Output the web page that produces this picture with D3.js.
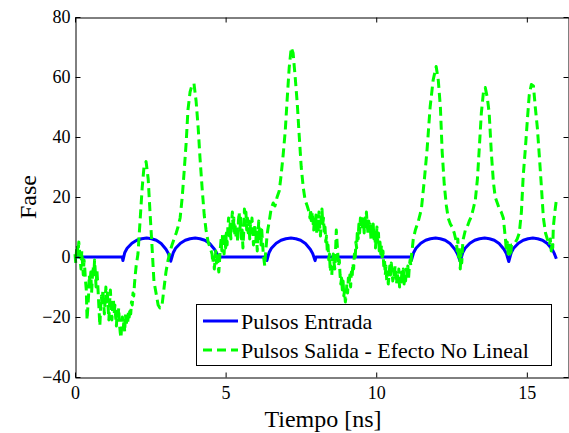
<!DOCTYPE html>
<html>
<head>
<meta charset="utf-8">
<script src="https://cdn.jsdelivr.net/npm/d3@7"></script>
<style>
  html, body { margin: 0; padding: 0; background: #fff; }
  svg { display: block; }
  svg text { font-family: "Liberation Serif", "Times New Roman", Times, "Nimbus Roman", "DejaVu Serif", serif; fill: #000; }
</style>
</head>
<body>
<svg id="chart" width="569" height="433"></svg>
<script>
// ---------- data ----------
const seriesNames = ["Pulsos Entrada", "Pulsos Salida - Efecto No Lineal"];
const xTicks = [0, 5, 10, 15];
const yTicks = [-40, -20, 0, 20, 40, 60, 80];
const xLabel = "Tiempo [ns]";
const yLabel = "Fase";

// input pulses: [time ns, phase]
const inputPulse = [
  [0,0],[1.57,0],[1.59,-1.2],[1.65,1.4],[1.73,2.9],[1.89,4.6],[2.05,5.6],[2.21,6.1],[2.38,6.3],[2.54,6.1],[2.70,5.6],[2.86,4.5],[3.02,2.6],[3.10,1.2],[3.18,-1.4],
  [3.26,1.4],[3.34,2.9],[3.50,4.6],[3.66,5.6],[3.82,6.1],[3.99,6.3],[4.15,6.1],[4.31,5.6],[4.47,4.5],[4.63,2.6],[4.71,1.2],[4.79,-0.8],[4.82,0],
  [6.35,0],[6.37,-1.2],[6.44,1.4],[6.52,2.9],[6.68,4.6],[6.84,5.6],[7.00,6.1],[7.17,6.3],[7.33,6.1],[7.49,5.6],[7.65,4.5],[7.81,2.6],[7.89,1.2],[7.97,-1.2],[8.00,0],
  [11.15,0],[11.17,-1.0],[11.24,1.4],[11.32,2.9],[11.48,4.6],[11.64,5.6],[11.80,6.1],[11.97,6.3],[12.13,6.1],[12.29,5.6],[12.45,4.5],[12.61,2.6],[12.69,1.2],[12.79,-1.5],
  [12.87,1.4],[12.95,2.9],[13.11,4.6],[13.27,5.6],[13.43,6.1],[13.60,6.3],[13.76,6.1],[13.92,5.6],[14.08,4.5],[14.24,2.6],[14.32,1.2],[14.40,-1.5],
  [14.48,1.4],[14.56,2.9],[14.72,4.6],[14.88,5.6],[15.04,6.1],[15.20,6.3],[15.36,6.1],[15.52,5.6],[15.68,4.5],[15.84,2.6],[15.91,1.2],[15.98,-0.6]
];

// output pulses (non-linear effect): [time ns, phase]
const outputPulse = [
  [0.000,1],[0.025,-2],[0.050,2],[0.075,4],[0.100,1],[0.125,5],[0.150,2],[0.175,-1],[0.200,-4],[0.225,2],
  [0.250,-2],[0.275,-6],[0.300,-1],[0.325,-4],[0.350,-8],[0.375,-11],[0.400,-21],[0.425,-17],[0.450,-13],[0.475,-6],
  [0.500,-9],[0.525,-5],[0.550,-12],[0.575,-7],[0.600,-3],[0.625,-6],[0.650,-1],[0.675,-5],[0.700,-10],[0.725,-4],
  [0.750,-8],[0.775,-13],[0.800,-18],[0.825,-23],[0.850,-17],[0.875,-13],[0.900,-16],[0.925,-11],[0.950,-15],[0.975,-19],
  [1.000,-14],[1.025,-10],[1.050,-15],[1.075,-12],[1.100,-17],[1.125,-21],[1.150,-15],[1.175,-11],[1.200,-16],[1.225,-21],
  [1.250,-17],[1.275,-14],[1.300,-19],[1.325,-16],[1.350,-20],[1.375,-23],[1.400,-18],[1.425,-21],[1.450,-17],[1.475,-22],
  [1.500,-25],[1.525,-27],[1.550,-23],[1.575,-20],[1.600,-24],[1.625,-21],[1.650,-25],[1.675,-19],[1.700,-23],[1.725,-20],
  [1.750,-22],[1.775,-18],[1.800,-20],[1.825,-17],[1.850,-19],[1.875,-15],[1.900,-16],[1.925,-12],[1.950,-13],[1.975,-9],
  [2.00,-6],[2.03,-3],[2.09,1],[2.16,12],[2.23,23],[2.29,30],[2.36,31.8],[2.43,26],[2.49,15],[2.56,3],
  [2.62,-8],[2.69,-12],[2.76,-16],[2.82,-17],[2.89,-16],[2.96,-10],[3.02,-5],[3.09,-1],[3.16,2],[3.22,4],
  [3.29,6],[3.36,8],[3.42,10],[3.49,13],[3.56,20],[3.62,28],[3.69,38],[3.75,49],[3.82,55],[3.89,57.5],
  [3.95,57.8],[4.02,52],[4.09,43],[4.15,33],[4.22,23],[4.29,14],[4.35,9],[4.42,5],[4.49,3],
  [4.550,1],[4.575,-2],[4.600,0],[4.625,-4],[4.650,-1],[4.675,2],[4.700,-2],[4.725,1],[4.750,-3],[4.775,-5],
  [4.800,-1],[4.825,3],[4.850,6],[4.875,2],[4.900,8],[4.925,4],[4.950,1],[4.975,7],[5.000,3],[5.025,8],
  [5.050,4],[5.075,10],[5.100,13],[5.125,7],[5.150,11],[5.175,6],[5.200,12],[5.225,15],[5.250,9],[5.275,13],
  [5.300,7],[5.325,11],[5.350,6],[5.375,10],[5.400,5],[5.425,12],[5.450,15],[5.475,9],[5.500,13],[5.525,6],
  [5.550,9],[5.575,3],[5.600,8],[5.625,16],[5.650,11],[5.675,15],[5.700,9],[5.725,13],[5.750,8],[5.775,12],
  [5.800,6],[5.825,11],[5.850,8],[5.875,13],[5.900,9],[5.925,4],[5.950,8],[5.975,11],[6.000,5],[6.025,9],
  [6.050,2],[6.075,7],[6.100,12],[6.125,6],[6.150,10],[6.175,4],[6.200,9],[6.225,5],[6.250,1],[6.275,-1],
  [6.300,-3],[6.325,1],[6.350,4],[6.375,7],[6.400,9],[6.45,12],[6.51,16],[6.58,18],
  [6.64,17],[6.71,20],[6.78,22],[6.84,27],[6.91,34],[6.98,42],[7.04,52],[7.11,63],[7.18,69.8],[7.24,68],
  [7.31,60],[7.38,51],[7.44,41],[7.51,30],[7.58,23],[7.64,19],[7.71,17],[7.77,15],
  [7.800,13],[7.825,16],[7.850,11],[7.875,15],[7.900,12],[7.925,9],[7.950,13],[7.975,10],[8.000,14],[8.025,8],
  [8.050,12],[8.075,9],[8.100,15],[8.125,10],[8.150,7],[8.175,13],[8.200,16],[8.225,11],[8.250,13],[8.275,8],
  [8.300,10],[8.325,5],[8.350,7],[8.375,2],[8.400,4],[8.425,-1],[8.450,1],[8.475,-5],[8.500,-3],[8.525,-6],
  [8.550,-1],[8.575,1],[8.600,-2],[8.625,-4],[8.650,2],[8.675,9],[8.700,5],[8.725,1],[8.750,-3],[8.775,-1],
  [8.800,-6],[8.825,-9],[8.850,-7],[8.875,-11],[8.900,-8],[8.925,-13],[8.950,-11],[8.975,-15],[9.000,-13],[9.025,-9],
  [9.050,-12],[9.075,-7],[9.100,-9],[9.125,-6],[9.150,-10],[9.175,-5],[9.200,-7],[9.225,-2],[9.250,-4],[9.275,1],
  [9.300,-1],[9.325,5],[9.350,3],[9.375,9],[9.400,6],[9.425,11],[9.450,8],[9.475,13],[9.500,10],[9.525,14],
  [9.550,9],[9.575,12],[9.600,8],[9.625,13],[9.650,10],[9.675,15],[9.700,11],[9.725,8],[9.750,12],[9.775,9],
  [9.800,11],[9.825,6],[9.850,10],[9.875,7],[9.900,11],[9.925,6],[9.950,9],[9.975,3],[10.000,7],[10.025,10],
  [10.050,5],[10.075,8],[10.100,2],[10.125,5],[10.150,1],[10.175,4],[10.200,-1],[10.225,2],[10.250,-3],[10.275,-1],
  [10.300,-6],[10.325,-3],[10.350,-8],[10.375,-5],[10.400,-9],[10.425,-6],[10.450,-3],[10.475,-6],[10.500,-2],[10.525,-5],
  [10.550,-8],[10.575,-4],[10.600,-7],[10.625,-3],[10.650,-6],[10.675,-9],[10.700,-5],[10.725,-8],[10.750,-4],[10.775,-10],
  [10.800,-7],[10.825,-9],[10.850,-5],[10.875,-8],[10.900,-4],[10.925,-9],[10.950,-6],[10.975,-8],[11.000,-4],[11.025,-6],
  [11.050,-3],[11.075,-7],[11.100,-3],[11.125,-1],[11.150,-3],[11.175,1],[11.200,3],
  [11.23,6],[11.30,9],[11.40,12],[11.50,16],
  [11.60,26],[11.69,36],[11.79,50],[11.89,59],[11.99,63.5],[12.06,59],[12.13,50],[12.19,35],[12.26,24],[12.33,17],
  [12.39,13],[12.46,11],[12.52,10],[12.59,8],[12.66,5],[12.69,2],[12.71,6],[12.74,-1],[12.76,3],[12.79,-4],
  [12.82,2],[12.84,-2],[12.87,4],[12.89,6],
  [12.96,9],[13.02,10],[13.09,12],[13.16,13.5],[13.22,16],[13.29,19],[13.36,26],[13.42,36],[13.49,48],[13.56,55],
  [13.62,56.5],[13.69,53],[13.75,48],[13.82,35],[13.89,25],[13.95,20],[14.02,18],[14.09,16],[14.15,15],[14.22,13],
  [14.29,6],[14.32,2],[14.35,5],[14.38,1],[14.40,4],[14.42,0],[14.45,3],[14.47,1],[14.49,4],
  [14.55,4],[14.62,5],[14.68,6],[14.75,8],[14.82,15],[14.88,27],
  [14.95,36],[15.02,46],[15.08,54],[15.15,57.5],[15.22,57],[15.28,50],[15.35,43],[15.42,33],[15.48,24],[15.55,13],
  [15.62,8],[15.68,6],[15.75,4],[15.78,6],[15.81,2],[15.84,5],[15.86,3],[15.88,10],[15.93,15],[15.98,19]
];

// ---------- layout ----------
const svg = d3.select("#chart");
const serif = "'Liberation Serif', 'Times New Roman', Times, serif";

const x = d3.scaleLinear().domain([0, 16.4]).range([75, 569]);
const y = d3.scaleLinear().domain([-40, 80]).range([377, 17]);

const g = svg.append("g");

const tick = 5;
const bottomAxis = d3.axisBottom(x).tickValues(xTicks).tickSizeInner(-tick).tickSizeOuter(0).tickPadding(9).tickFormat(d3.format("d"));
const topAxis = d3.axisTop(x).tickValues(xTicks).tickSizeInner(-tick).tickSizeOuter(0).tickFormat("");
const leftAxis = d3.axisLeft(y).tickValues(yTicks).tickSizeInner(-tick).tickSizeOuter(0).tickPadding(5).tickFormat(d3.format("d"));
const rightAxis = d3.axisRight(y).tickValues(yTicks).tickSizeInner(-tick).tickSizeOuter(0).tickFormat("");

function styleAxis(sel, fs) {
  sel.attr("font-family", serif);
  sel.select(".domain").attr("stroke", "#000").attr("stroke-width", 1);
  sel.selectAll(".tick line").attr("stroke", "#000").attr("stroke-width", 1);
  sel.selectAll(".tick text")
    .attr("font-family", serif)
    .attr("font-size", fs).attr("fill", "#000");
}

const line = d3.line().x(d => x(d[0])).y(d => y(d[1]));

g.append("path").datum(inputPulse)
  .attr("d", line)
  .attr("fill", "none").attr("stroke", "#0000ff").attr("stroke-width", 3)
  .attr("stroke-linejoin", "round");

g.append("path").datum(outputPulse)
  .attr("d", line)
  .attr("fill", "none").attr("stroke", "#00ff00").attr("stroke-width", 3)
  .attr("stroke-dasharray", "9,5").attr("stroke-linejoin", "round");

g.append("g").attr("transform", "translate(0,377.5)").call(bottomAxis).call(s => styleAxis(s, 18));
g.append("g").attr("transform", "translate(0,17.5)").call(topAxis).call(s => styleAxis(s, 18));
g.append("g").attr("transform", "translate(75.5,0)").call(leftAxis).call(s => styleAxis(s, 18));
g.append("g").attr("transform", "translate(568.5,0)").call(rightAxis).call(s => styleAxis(s, 18));

svg.append("text").attr("x", 323).attr("y", 427).attr("text-anchor", "middle")
  .attr("font-family", serif).attr("font-size", 24).text(xLabel);
svg.append("text").attr("transform", "translate(36,197) rotate(-90)").attr("text-anchor", "middle")
  .attr("font-family", serif).attr("font-size", 24).text(yLabel);

// legend
const lg = svg.append("g");
lg.append("rect").attr("x", 196.5).attr("y", 304.5).attr("width", 355).attr("height", 61)
  .attr("fill", "#fff").attr("stroke", "#000").attr("stroke-width", 1);
const legendStyles = [
  { color: "#0000ff", dash: null },
  { color: "#00ff00", dash: "9,5" }
];
seriesNames.forEach((name, i) => {
  const cy = 321 + i * 29;
  lg.append("line").attr("x1", 203).attr("x2", 238).attr("y1", cy).attr("y2", cy)
    .attr("stroke", legendStyles[i].color).attr("stroke-width", 3)
    .attr("stroke-dasharray", legendStyles[i].dash);
  lg.append("text").attr("x", 241).attr("y", cy + 7.5).attr("font-family", serif)
    .attr("font-size", 22).text(name);
});
</script>
</body>
</html>
